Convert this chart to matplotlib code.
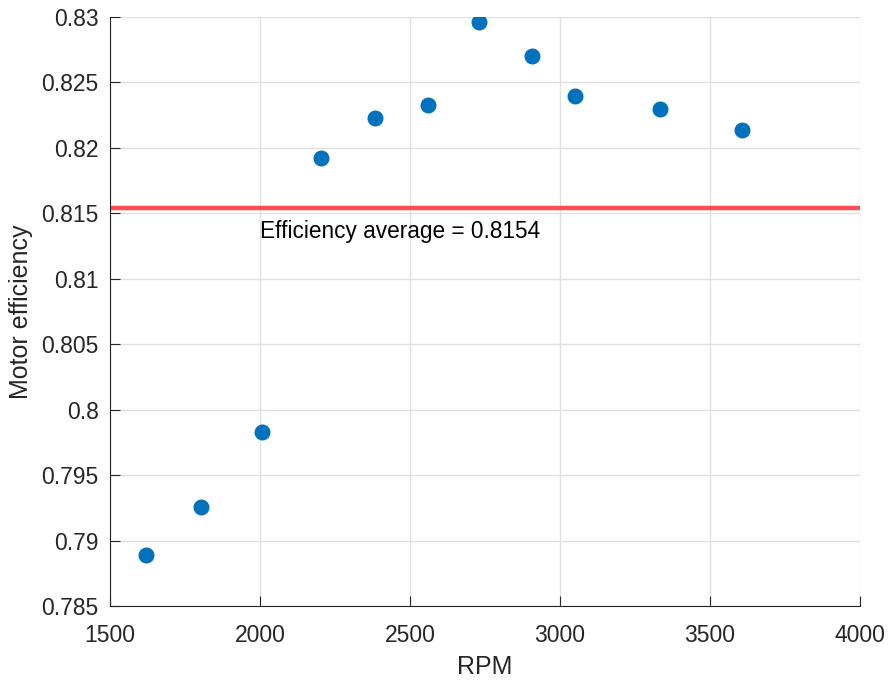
import matplotlib
matplotlib.use("Agg")
import matplotlib.pyplot as plt
import numpy as np

plt.rcParams['font.family'] = ['Liberation Sans', 'DejaVu Sans']

rpm = [1620, 1803, 2007, 2203, 2383, 2560, 2730, 2907, 3050, 3333, 3607]
efficiency = [0.7889, 0.7926, 0.7983, 0.8192, 0.8223, 0.8233, 0.8296,
              0.8270, 0.8240, 0.8230, 0.8214]
avg = 0.8154
avg_label = "Efficiency average = 0.8154"

fig = plt.figure(figsize=(8.89, 6.83), dpi=100)
ax = fig.add_axes([0.1237, 0.1127, 0.8437, 0.8624])

ax.axhline(avg, color='#ff3b3b', lw=3.2, alpha=0.9, zorder=2)
ax.text(2000, avg - 0.0009, avg_label, fontsize=16.3, color='black',
        ha='left', va='top')
ax.plot(rpm, efficiency, 'o', color='#0072BD', markersize=10.5, zorder=3)

ax.set_xlim(1500, 4000)
ax.set_ylim(0.785, 0.83)
ax.set_xticks(np.arange(1500, 4001, 500))
ax.set_yticks(np.arange(0.785, 0.8301, 0.005))
ax.set_yticklabels(['0.785', '0.79', '0.795', '0.8', '0.805', '0.81',
                    '0.815', '0.82', '0.825', '0.83'])
ax.grid(True, color='#e0e0e0', lw=1)
ax.set_axisbelow(True)
for s in ['top', 'right']:
    ax.spines[s].set_visible(False)
for s in ['left', 'bottom']:
    ax.spines[s].set_color('#262626')
ax.tick_params(direction='in', labelsize=16.5, colors='#262626', length=7)
ax.tick_params(axis='x', pad=13)
ax.tick_params(axis='y', pad=8)
ax.set_xlabel('RPM', fontsize=18, color='#262626', labelpad=6)
ax.set_ylabel('Motor efficiency', fontsize=18, color='#262626', labelpad=6)

fig.savefig('out.png', dpi=100)
